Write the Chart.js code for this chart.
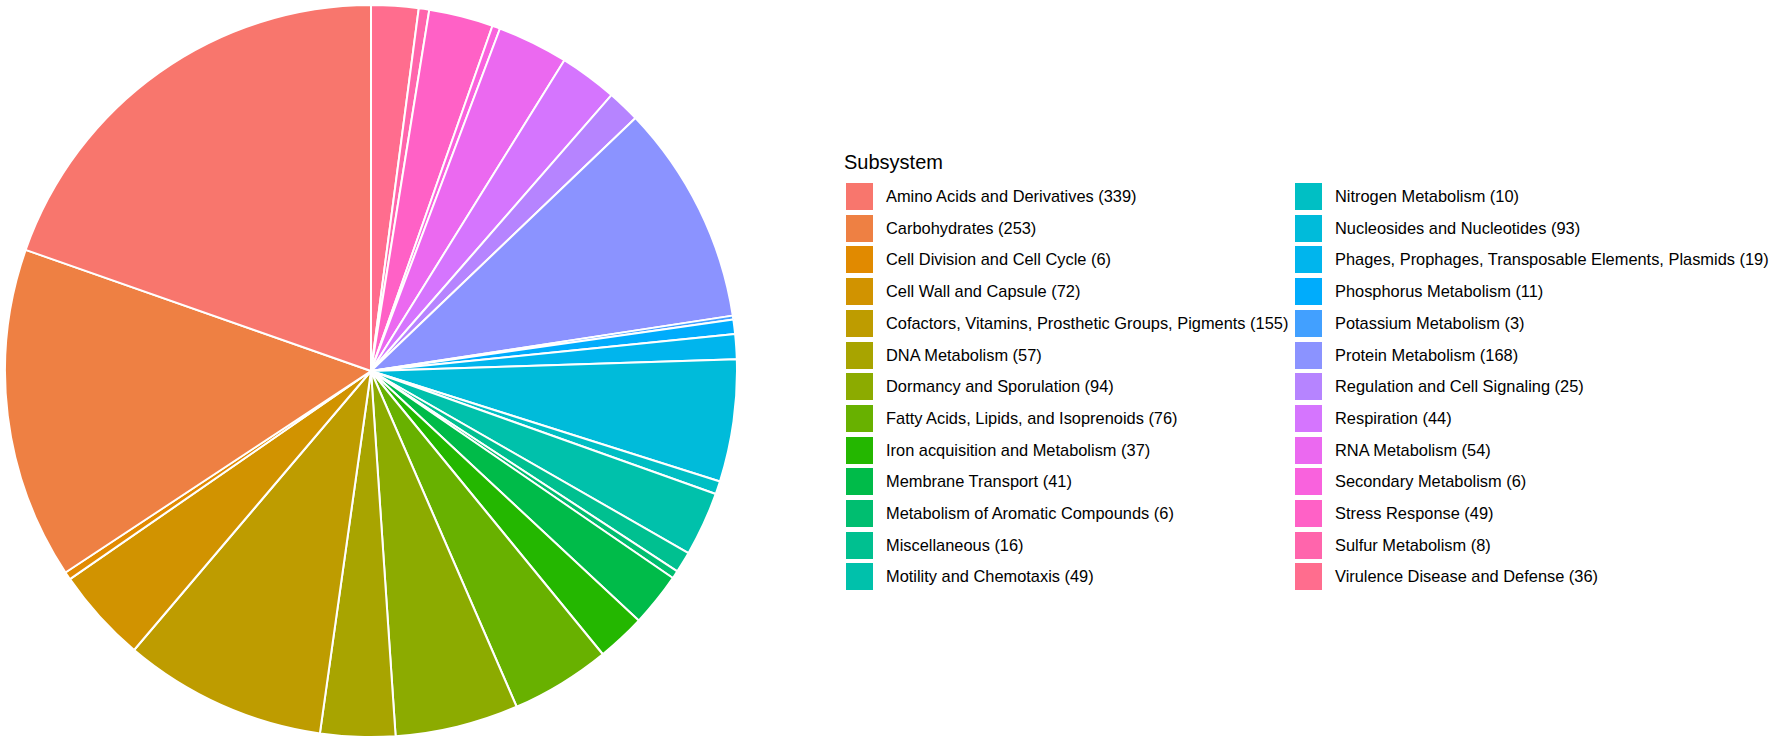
<!DOCTYPE html>
<html>
<head>
<meta charset="utf-8">
<script src="https://cdn.jsdelivr.net/npm/chart.js@4.4.1/dist/chart.umd.min.js"></script>
<style>
html, body { margin: 0; padding: 0; background: #fff; }
body { width: 1772px; height: 748px; position: relative; overflow: hidden;
       font-family: "Liberation Sans", Arial, Helvetica, sans-serif; }
#pieBox { position: absolute; left: 4px; top: 4px; width: 734px; height: 734px; }
.title { position: absolute; left: 844px; top: 152px; font-size: 20px; line-height: 20px; color: #000; }
.item { position: absolute; height: 27px; }
.key { position: absolute; left: 0; top: 0; width: 27px; height: 27px; }
.lab { position: absolute; left: 40px; top: 0; line-height: 27px; font-size: 16.4px; white-space: nowrap; color: #000; }
</style>
</head>
<body>
<div id="pieBox"><canvas id="pieChart"></canvas></div>
<div id="legend"></div>
<script>
// Subsystem categories and gene counts (legend order)
const subsystems = [
    'Amino Acids and Derivatives',
    'Carbohydrates',
    'Cell Division and Cell Cycle',
    'Cell Wall and Capsule',
    'Cofactors, Vitamins, Prosthetic Groups, Pigments',
    'DNA Metabolism',
    'Dormancy and Sporulation',
    'Fatty Acids, Lipids, and Isoprenoids',
    'Iron acquisition and Metabolism',
    'Membrane Transport',
    'Metabolism of Aromatic Compounds',
    'Miscellaneous',
    'Motility and Chemotaxis',
    'Nitrogen Metabolism',
    'Nucleosides and Nucleotides',
    'Phages, Prophages, Transposable Elements, Plasmids',
    'Phosphorus Metabolism',
    'Potassium Metabolism',
    'Protein Metabolism',
    'Regulation and Cell Signaling',
    'Respiration',
    'RNA Metabolism',
    'Secondary Metabolism',
    'Stress Response',
    'Sulfur Metabolism',
    'Virulence Disease and Defense'
];
const counts = [339, 253, 6, 72, 155, 57, 94, 76, 37, 41, 6, 16, 49,
                10, 93, 19, 11, 3, 168, 25, 44, 54, 6, 49, 8, 36];
const legendTitle = 'Subsystem';

// ggplot-style hue palette (polar LUV)
function hcl(h, c, l) {
    const Xn = 95.047, Yn = 100.0, Zn = 108.883;
    const hr = h * Math.PI / 180;
    const U = c * Math.cos(hr), V = c * Math.sin(hr);
    const Y = Yn * (l > 8 ? Math.pow((l + 16) / 116, 3) : l / 903.3);
    const d = Xn + 15 * Yn + 3 * Zn;
    const u = U / (13 * l) + 4 * Xn / d;
    const v = V / (13 * l) + 9 * Yn / d;
    const X = 9 * Y * u / (4 * v);
    const Z = -X / 3 - 5 * Y + 3 * Y / v;
    const lin = [
        ( 3.240479 * X - 1.537150 * Y - 0.498535 * Z) / 100,
        (-0.969256 * X + 1.875992 * Y + 0.041556 * Z) / 100,
        ( 0.055648 * X - 0.204043 * Y + 1.057311 * Z) / 100
    ];
    const rgb = lin.map(x => {
        const g = x > 0.0031308 ? 1.055 * Math.pow(x, 1 / 2.4) - 0.055 : 12.92 * x;
        return Math.round(255 * Math.min(1, Math.max(0, g)));
    });
    return 'rgb(' + rgb.join(',') + ')';
}
const n = subsystems.length;
const colors = subsystems.map((_, i) => hcl(15 + 360 * i / n, 100, 65));

// ggplot draws counter-clockwise from 12 o'clock, Chart.js clockwise -> reverse
const pieCtx = document.getElementById('pieChart').getContext('2d');
const pieChart = new Chart(pieCtx, {
    type: 'pie',
    data: {
        labels: subsystems.slice().reverse(),
        datasets: [{
            label: legendTitle,
            data: counts.slice().reverse(),
            backgroundColor: colors.slice().reverse(),
            borderColor: '#ffffff',
            borderWidth: 2
        }]
    },
    options: {
        responsive: true,
        maintainAspectRatio: false,
        animation: false,
        layout: { padding: 0 },
        plugins: {
            legend: { display: false },
            tooltip: { enabled: false }
        }
    }
});

// Legend in two columns of 13
const legend = document.getElementById('legend');
const title = document.createElement('div');
title.className = 'title';
title.textContent = legendTitle;
legend.appendChild(title);
const perCol = Math.ceil(n / 2);
subsystems.forEach((name, i) => {
    const col = Math.floor(i / perCol), row = i % perCol;
    const item = document.createElement('div');
    item.className = 'item';
    item.style.left = (col === 0 ? 846 : 1295) + 'px';
    item.style.top = (183 + row * 31.7) + 'px';
    const key = document.createElement('div');
    key.className = 'key';
    key.style.background = colors[i];
    const lab = document.createElement('div');
    lab.className = 'lab';
    lab.textContent = name + ' (' + counts[i] + ')';
    item.appendChild(key);
    item.appendChild(lab);
    legend.appendChild(item);
});
</script>
</body>
</html>
